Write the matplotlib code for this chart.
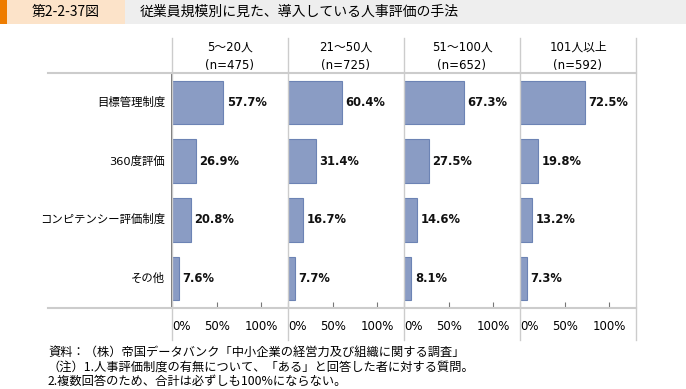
import matplotlib.pyplot as plt
from matplotlib.patches import Rectangle
from matplotlib.lines import Line2D

plt.rcParams['font.family'] = ['Noto Sans CJK JP', 'DejaVu Sans']
latin = ['DejaVu Sans', 'Noto Sans CJK JP']

# data
categories = ["目標管理制度", "360度評価", "コンピテンシー評価制度", "その他"]
groups = ["5～20人\n(n=475)", "21～50人\n(n=725)", "51～100人\n(n=652)", "101人以上\n(n=592)"]
values = [
    [57.7, 26.9, 20.8, 7.6],
    [60.4, 31.4, 16.7, 7.7],
    [67.3, 27.5, 14.6, 8.1],
    [72.5, 19.8, 13.2, 7.3],
]
tick_vals = [0, 50, 100]
tick_labels = ["0%", "50%", "100%"]

W, H = 686, 389
fig = plt.figure(figsize=(W / 100, H / 100), dpi=100)


def fx(px):
    return px / W


def fy(py):
    return 1 - py / H


# title bar
fig.patches.append(Rectangle((0, fy(24)), 1, 24 / H, transform=fig.transFigure,
                             facecolor="#EEEEEE", edgecolor="none"))
fig.patches.append(Rectangle((0, fy(24)), fx(125), 24 / H, transform=fig.transFigure,
                             facecolor="#FCE3C9", edgecolor="none"))
fig.patches.append(Rectangle((0, fy(24)), fx(7), 24 / H, transform=fig.transFigure,
                             facecolor="#EE7D00", edgecolor="none"))
fig.text(fx(66), fy(12), "第2-2-37図", ha="center", va="center", fontsize=10)
fig.text(fx(140), fy(12), "従業員規模別に見た、導入している人事評価の手法",
         ha="left", va="center", fontsize=10)

# panel geometry (pixels)
lefts = [172, 288, 404, 520]
pw = 116
top, bottom = 73, 308
grid_col = "#CCCCCC"

# frame lines
fig.add_artist(Line2D([fx(48), fx(636)], [fy(top), fy(top)], color=grid_col, lw=1.5))
fig.add_artist(Line2D([fx(48), fx(636)], [fy(bottom), fy(bottom)], color=grid_col, lw=1.5))
for x in lefts + [636]:
    fig.add_artist(Line2D([fx(x), fx(x)], [fy(38), fy(340)], color=grid_col, lw=1))

for i, (left, grp, vals) in enumerate(zip(lefts, groups, values)):
    ax = fig.add_axes([fx(left), fy(bottom), pw / W, (bottom - top) / H])
    ax.patch.set_alpha(0)
    y = list(range(len(categories)))
    ax.barh(y, vals, height=0.74, color="#8A9CC4", edgecolor="#6C83B4", lw=0.8)
    for yy, v in zip(y, vals):
        ax.text(v + 4, yy, f"{v:.1f}%", ha="left", va="center", family=latin,
                fontsize=8.3, fontweight="bold", color="#111111")
    ax.set_xlim(0, 130)
    ax.set_ylim(len(categories) - 0.5, -0.5)
    for s in ["top", "right", "bottom"]:
        ax.spines[s].set_visible(False)
    ax.set_yticks([])
    if i == 0:
        ax.spines["left"].set_color("#555555")
        ax.spines["left"].set_linewidth(1.2)
        # category labels, right aligned left of the first panel
        for yy, cat in zip(y, categories):
            ax.annotate(cat, xy=(0, yy), xytext=(-5, 0), textcoords="offset points",
                        ha="right", va="center", fontsize=8.2,
                        family=latin, annotation_clip=False)
    else:
        ax.spines["left"].set_visible(False)
    ax.set_xticks(tick_vals)
    ax.set_xticklabels(tick_labels, fontsize=8.5, family=latin)
    ax.tick_params(axis="x", direction="in", length=4, color="#777777", pad=9)
    ax.get_xticklabels()[0].set_horizontalalignment("left")
    fig.text(fx(left + pw / 2), fy(56), grp, ha="center", va="center",
             fontsize=8.5, linespacing=1.5, family=latin)

# notes
fig.text(fx(48), fy(352), "資料：（株）帝国データバンク「中小企業の経営力及び組織に関する調査」",
         ha="left", va="center", fontsize=8.8)
fig.text(fx(48), fy(367), "（注）1.人事評価制度の有無について、「ある」と回答した者に対する質問。",
         ha="left", va="center", fontsize=8.8)
fig.text(fx(48), fy(381), "2.複数回答のため、合計は必ずしも100%にならない。",
         ha="left", va="center", fontsize=8.8)

fig.savefig("out.png", dpi=100)
